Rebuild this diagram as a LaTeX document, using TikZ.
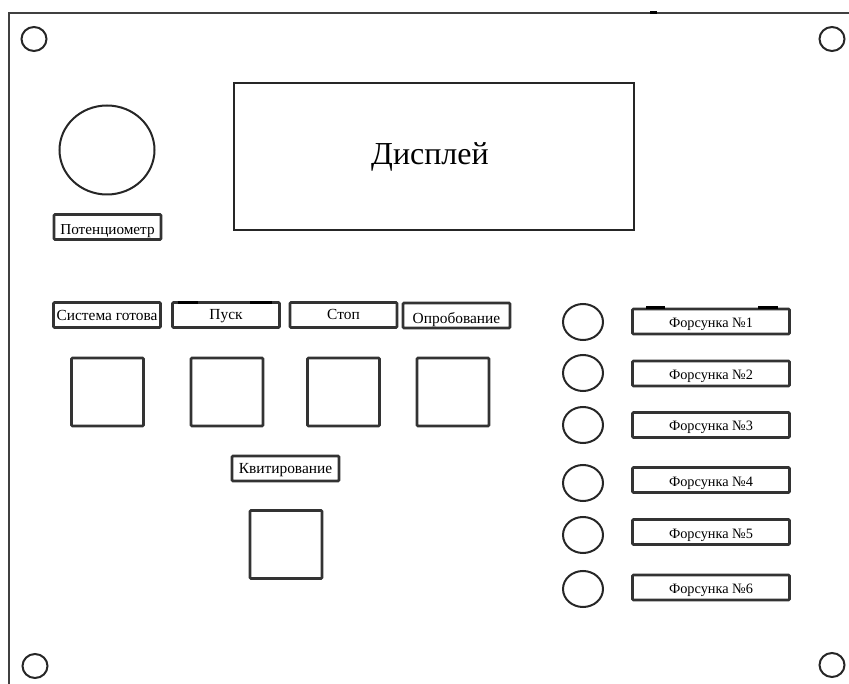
\documentclass[tikz,border=0pt]{standalone}
\usepackage{fontspec}
\setmainfont{Liberation Serif}
\usetikzlibrary{shapes.geometric}
\tikzset{
  lbl/.style={draw=black!80, line width=2.6pt, rounded corners=1pt, inner sep=0pt,
    minimum width=#1, minimum height=25pt, text height=10.5pt, text depth=0pt,
    font=\fontsize{15.4}{15.4}\selectfont},
  lbl/.default=107pt,
  sq/.style={draw=black!80, line width=2.6pt, rounded corners=1pt, inner sep=0pt,
    minimum width=72pt, minimum height=68pt},
  hole/.style={draw=black!85, line width=2pt, ellipse, inner sep=0pt,
    minimum width=25pt, minimum height=24pt},
  lamp/.style={draw=black!85, line width=2pt, ellipse, inner sep=0pt,
    minimum width=40pt, minimum height=36pt},
  frame/.style={draw=black!75, line width=2pt},
  tick/.style={line width=3pt, black},
}
\begin{document}
\begin{tikzpicture}[x=1pt,y=-1pt]
\useasboundingbox (0,0) rectangle (849,684);
% frame
\coordinate (ftl) at (9,13);
\coordinate (ftr) at (849,13);
\coordinate (fbl) at (9,684);
\draw[frame] (fbl) -- (ftl) -- (ftr);
\draw[tick] (650,13) -- (657,13);
% corner holes
\node[hole] (h1) at (34,39) {};
\node[hole] (h2) at (832,39) {};
\node[hole] (h3) at (35,666) {};
\node[hole] (h4) at (832,665) {};
% potentiometer
\node[draw=black!85, line width=2pt, ellipse, inner sep=0pt, minimum width=95pt, minimum height=89pt] (pot) at (107,150) {};
\node[lbl, font=\fontsize{15.2}{15.2}\selectfont, text height=15pt] (potl) at (107.5,227) {Потенциометр};
% display
\node[draw=black!85, line width=2pt, inner sep=0pt, minimum width=400pt, minimum height=147pt] (disp) at (434,156.5) {};
\node[font=\fontsize{32}{32}\selectfont, inner sep=0pt] (dispt) at (430,157) {Дисплей};
% button labels
\node[lbl, text height=11.5pt] (l1) at (107,315) {Система готова};
\node[lbl, text height=10pt] (l2) at (226,315) {Пуск};
\node[lbl, text height=8.5pt] (l3) at (343.5,315) {Стоп};
\node[lbl, text height=16pt] (l4) at (456.5,315.5) {Опробование};
\draw[tick] (178,303) -- (198,303);
\draw[tick] (250,303) -- (272,303);
% buttons
\node[sq] (b1) at (107.5,392) {};
\node[sq] (b2) at (227,392) {};
\node[sq] (b3) at (343.5,392) {};
\node[sq] (b4) at (453,392) {};
% acknowledge
\node[lbl, text height=9.5pt] (l5) at (285.5,468.5) {Квитирование};
\node[sq] (b5) at (286,544.5) {};
% injectors
\foreach \i/\cy/\ly in {1/322/321.5, 2/373/373.5, 3/425/425, 4/483/480, 5/535/532, 6/589/587.5}{
  \node[lamp] (c\i) at (583,\cy) {};
  \node[lbl=157pt, font=\fontsize{14.3}{14.3}\selectfont, text height=12pt] (f\i) at (711,\ly) {Форсунка №\i};
}
\draw[tick] (646,308) -- (665,308);
\draw[tick] (758,308) -- (778,308);
\end{tikzpicture}
\end{document}
